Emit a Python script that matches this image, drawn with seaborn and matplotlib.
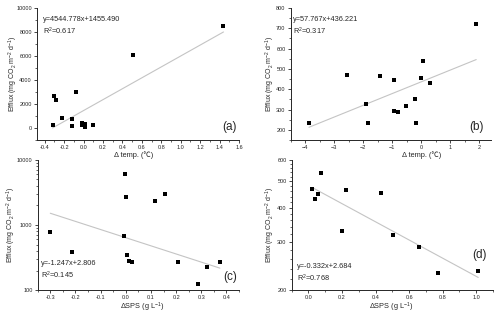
import numpy as np
import pandas as pd
import seaborn as sns
import matplotlib.pyplot as plt
from matplotlib.ticker import MultipleLocator, FixedLocator, LogLocator, FuncFormatter, NullFormatter

## values
a_x = [-0.32, -0.30, -0.28, -0.22, -0.08, -0.12, -0.12, -0.02, -0.02, 0.01, 0.01, 0.10, 0.51, 1.44]
a_y = [280, 2670, 2370, 800, 3030, 720, 140, 390, 250, 360, 80, 280, 6070, 8500]

b_x = [-3.87, -2.55, -1.90, -1.82, -1.42, -0.92, -0.92, -0.79, -0.52, -0.21, -0.18, 0.01, 0.07, 0.31, 1.90]
b_y = [232, 468, 328, 235, 463, 447, 295, 287, 317, 350, 233, 453, 537, 429, 720]

c_x = [-0.30, -0.215, -0.005, 0.0, 0.115, 0.155, -0.007, 0.005, 0.013, 0.024, 0.207, 0.289, 0.323, 0.374]
c_y = [790, 391, 6100, 2680, 2350, 3000, 680, 348, 281, 268, 268, 124, 228, 272]

d_x = [0.022, 0.036, 0.057, 0.077, 0.202, 0.224, 0.433, 0.503, 0.656, 0.775, 1.012]
d_y = [470, 430, 448, 535, 328, 465, 455, 318, 287, 232, 235]

## fitted lines (slope, intercept); c and d are fitted on log10(y)
fits = {"a": (4544.778, 1455.490), "b": (57.767, 436.221), "c": (-1.247, 2.806), "d": (-0.332, 2.684)}
eq_text = {"a": "y=4544.778x+1455.490\nR$^2$=0.617",
           "b": "y=57.767x+436.221\nR$^2$=0.317",
           "c": "y=-1.247x+2.806\nR$^2$=0.145",
           "d": "y=-0.332x+2.684\nR$^2$=0.768"}

sns.set_style("ticks")
plt.rcParams["font.family"] = ["Liberation Sans", "Noto Sans CJK SC", "DejaVu Sans"]
plt.rcParams["mathtext.fontset"] = "custom"
plt.rcParams["mathtext.rm"] = "Liberation Sans"
plt.rcParams["mathtext.it"] = "Liberation Sans:italic"

fig = plt.figure(figsize=(5, 3.17), dpi=100)
axes = {
    "a": fig.add_axes([0.074, 0.5584, 0.404, 0.4164]),
    "b": fig.add_axes([0.5814, 0.5584, 0.400, 0.4164]),
    "c": fig.add_axes([0.0754, 0.0842, 0.4026, 0.412]),
    "d": fig.add_axes([0.5834, 0.0842, 0.4026, 0.412]),
}
data = {"a": (a_x, a_y), "b": (b_x, b_y), "c": (c_x, c_y), "d": (d_x, d_y)}

ylab = "Efflux (mg CO$_2$ m$^{-2}$ d$^{-1}$)"
for key, ax in axes.items():
    xs, ys = data[key]
    df = pd.DataFrame({"x": xs, "y": ys})
    sl, ic = fits[key]
    lx = np.array([min(xs), max(xs)])
    ly = sl * lx + ic
    if key in ("c", "d"):
        ly = 10 ** ly
    ax.plot(lx, ly, color="#c4c4c4", lw=0.8, zorder=1)
    sns.scatterplot(data=df, x="x", y="y", ax=ax, marker="s", color="black", s=7, linewidth=0, zorder=3)
    sns.despine(ax=ax)
    for sp in ("left", "bottom"):
        ax.spines[sp].set_linewidth(0.7)
    ax.tick_params(which="major", direction="out", length=2.2, width=0.6, labelsize=4.0, pad=1.5)
    ax.tick_params(which="minor", direction="out", length=1.2, width=0.5)
    ax.set_ylabel(ylab, fontsize=5.0)
    ax.yaxis.label.set_va("center")
    ax.xaxis.label.set_va("center")

# (a)
ax = axes["a"]
ax.set_xlim(-0.48, 1.6)
ax.set_ylim(-1000, 10000)
ax.xaxis.set_major_locator(MultipleLocator(0.2))
ax.xaxis.set_minor_locator(MultipleLocator(0.1))
ax.yaxis.set_major_locator(FixedLocator([0, 2000, 4000, 6000, 8000, 10000]))
ax.yaxis.set_minor_locator(MultipleLocator(1000))
ax.xaxis.set_major_formatter(FuncFormatter(lambda v, p: f"{v:.1f}"))
ax.set_xlabel("Δ temp. (℃)", fontsize=5.3)
ax.xaxis.set_label_coords(0.476, -0.118)
ax.yaxis.set_label_coords(-0.118, 0.5)
ax.text(0.028, 0.942, eq_text["a"], transform=ax.transAxes, fontsize=5.3, va="top", linespacing=1.3)
ax.text(0.955, 0.10, "(a)", transform=ax.transAxes, fontsize=8.5, ha="center", va="center")

# (b)
ax = axes["b"]
ax.set_xlim(-4.5, 2.4)
ax.set_ylim(150, 800)
ax.xaxis.set_major_locator(MultipleLocator(1))
ax.xaxis.set_minor_locator(MultipleLocator(0.5))
ax.yaxis.set_major_locator(MultipleLocator(100))
ax.yaxis.set_minor_locator(MultipleLocator(50))
ax.set_ylim(150, 800)
ax.set_xlabel("Δ temp. (℃)", fontsize=5.3)
ax.xaxis.set_label_coords(0.655, -0.118)
ax.yaxis.set_label_coords(-0.1, 0.5)
ax.text(0.01, 0.942, eq_text["b"], transform=ax.transAxes, fontsize=5.3, va="top", linespacing=1.3)
ax.text(0.93, 0.10, "(b)", transform=ax.transAxes, fontsize=8.5, ha="center", va="center")

# (c)
ax = axes["c"]
ax.set_yscale("log")
ax.set_xlim(-0.35, 0.45)
ax.set_ylim(100, 10000)
ax.xaxis.set_major_locator(MultipleLocator(0.1))
ax.xaxis.set_minor_locator(MultipleLocator(0.05))
ax.xaxis.set_major_formatter(FuncFormatter(lambda v, p: f"{v:.1f}"))
ax.yaxis.set_major_locator(FixedLocator([100, 1000, 10000]))
ax.yaxis.set_minor_locator(LogLocator(base=10, subs=range(2, 10)))
ax.yaxis.set_major_formatter(FuncFormatter(lambda v, p: f"{v:.0f}"))
ax.yaxis.set_minor_formatter(NullFormatter())
ax.set_xlabel("ΔSPS (g L$^{-1}$)", fontsize=5.3)
ax.xaxis.set_label_coords(0.52, -0.128)
ax.yaxis.set_label_coords(-0.129, 0.5)
ax.text(0.015, 0.155, eq_text["c"], transform=ax.transAxes, fontsize=5.3, va="center", linespacing=1.3)
ax.text(0.955, 0.105, "(c)", transform=ax.transAxes, fontsize=8.5, ha="center", va="center")

# (d)
ax = axes["d"]
ax.set_yscale("log")
ax.set_xlim(-0.1, 1.1)
ax.set_ylim(200, 600)
ax.xaxis.set_major_locator(MultipleLocator(0.2))
ax.xaxis.set_minor_locator(MultipleLocator(0.1))
ax.xaxis.set_major_formatter(FuncFormatter(lambda v, p: f"{v:.1f}"))
ax.yaxis.set_major_locator(FixedLocator([200, 300, 400, 500, 600]))
ax.yaxis.set_minor_locator(MultipleLocator(20))
ax.yaxis.set_major_formatter(FuncFormatter(lambda v, p: f"{v:.0f}"))
ax.yaxis.set_minor_formatter(NullFormatter())
ax.set_xlabel("ΔSPS (g L$^{-1}$)", fontsize=5.3)
ax.xaxis.set_label_coords(0.497, -0.128)
ax.yaxis.set_label_coords(-0.105, 0.5)
ax.text(0.025, 0.13, eq_text["d"], transform=ax.transAxes, fontsize=5.3, va="center", linespacing=1.3)
ax.text(0.935, 0.27, "(d)", transform=ax.transAxes, fontsize=8.5, ha="center", va="center")

fig.savefig("out.png", dpi=100)
